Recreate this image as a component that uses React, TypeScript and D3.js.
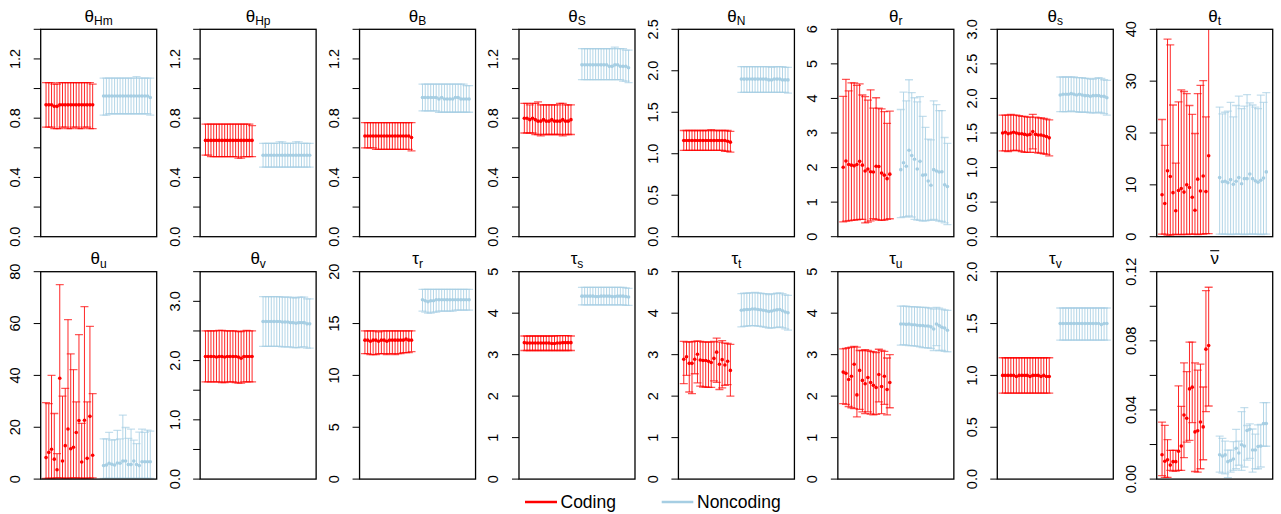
import React from "react";
import * as d3 from "d3";

// ---- data: 18 replicates per group ----
// each series: mean, lower end, upper end of the interval

const hmCodMean = [0.89,0.89,0.89,0.88,0.88,0.89,0.89,0.89,0.89,0.89,0.89,0.89,0.89,0.89,0.89,0.89,0.89,0.89];
const hmCodLo = [0.74,0.74,0.74,0.73,0.73,0.73,0.74,0.74,0.73,0.73,0.74,0.74,0.73,0.73,0.74,0.74,0.73,0.73];
const hmCodHi = [1.04,1.04,1.04,1.03,1.03,1.04,1.04,1.04,1.04,1.04,1.04,1.04,1.04,1.04,1.04,1.04,1.04,1.03];
const hmNonMean = [0.95,0.95,0.95,0.95,0.95,0.95,0.95,0.95,0.95,0.95,0.95,0.95,0.95,0.95,0.95,0.95,0.95,0.94];
const hmNonLo = [0.82,0.82,0.83,0.83,0.83,0.83,0.83,0.83,0.83,0.83,0.83,0.83,0.83,0.83,0.83,0.83,0.83,0.82];
const hmNonHi = [1.07,1.07,1.07,1.07,1.07,1.07,1.07,1.07,1.07,1.07,1.07,1.07,1.08,1.07,1.07,1.07,1.07,1.07];

const hpCodMean = [0.65,0.65,0.65,0.65,0.65,0.65,0.65,0.65,0.65,0.65,0.65,0.65,0.65,0.65,0.65,0.65,0.65,0.65];
const hpCodLo = [0.55,0.55,0.54,0.54,0.54,0.54,0.54,0.54,0.54,0.54,0.54,0.54,0.53,0.53,0.54,0.54,0.54,0.54];
const hpCodHi = [0.76,0.76,0.76,0.76,0.76,0.76,0.76,0.76,0.76,0.76,0.76,0.76,0.76,0.76,0.76,0.76,0.76,0.75];
const hpNonMean = [0.55,0.55,0.55,0.55,0.55,0.55,0.55,0.55,0.55,0.55,0.55,0.55,0.55,0.55,0.55,0.55,0.55,0.55];
const hpNonLo = [0.47,0.47,0.47,0.47,0.47,0.47,0.47,0.47,0.47,0.47,0.47,0.47,0.47,0.47,0.47,0.47,0.47,0.47];
const hpNonHi = [0.63,0.63,0.63,0.63,0.63,0.63,0.64,0.64,0.63,0.63,0.63,0.63,0.64,0.64,0.63,0.63,0.63,0.63];

const bCodMean = [0.68,0.68,0.68,0.68,0.68,0.68,0.68,0.68,0.68,0.68,0.68,0.68,0.68,0.68,0.68,0.68,0.68,0.67];
const bCodLo = [0.60,0.60,0.60,0.60,0.59,0.59,0.59,0.59,0.59,0.59,0.59,0.59,0.59,0.59,0.59,0.59,0.59,0.58];
const bCodHi = [0.77,0.77,0.77,0.77,0.77,0.77,0.77,0.77,0.77,0.77,0.77,0.77,0.77,0.77,0.77,0.77,0.77,0.77];
const bNonMean = [0.94,0.94,0.94,0.94,0.94,0.94,0.93,0.94,0.93,0.93,0.93,0.93,0.94,0.94,0.93,0.93,0.93,0.93];
const bNonLo = [0.85,0.85,0.85,0.85,0.85,0.85,0.84,0.84,0.84,0.84,0.84,0.84,0.84,0.84,0.84,0.84,0.84,0.84];
const bNonHi = [1.03,1.03,1.03,1.03,1.03,1.03,1.03,1.03,1.03,1.03,1.03,1.03,1.03,1.03,1.03,1.03,1.02,1.02];

const sCodMean = [0.80,0.80,0.79,0.80,0.79,0.78,0.78,0.79,0.78,0.78,0.79,0.78,0.78,0.78,0.79,0.78,0.78,0.79];
const sCodLo = [0.70,0.70,0.70,0.70,0.69,0.69,0.68,0.69,0.69,0.69,0.69,0.69,0.69,0.69,0.68,0.69,0.69,0.69];
const sCodHi = [0.90,0.90,0.89,0.90,0.90,0.91,0.89,0.89,0.89,0.89,0.89,0.89,0.89,0.90,0.90,0.89,0.89,0.89];
const sNonMean = [1.16,1.16,1.16,1.16,1.16,1.16,1.16,1.16,1.16,1.16,1.15,1.15,1.16,1.16,1.15,1.15,1.15,1.14];
const sNonLo = [1.06,1.06,1.06,1.06,1.06,1.06,1.06,1.06,1.06,1.06,1.06,1.06,1.06,1.06,1.06,1.05,1.05,1.04];
const sNonHi = [1.27,1.27,1.27,1.27,1.27,1.27,1.27,1.27,1.27,1.27,1.27,1.27,1.28,1.27,1.27,1.27,1.26,1.26];

const nCodMean = [1.16,1.16,1.16,1.16,1.16,1.16,1.16,1.16,1.16,1.16,1.16,1.16,1.16,1.16,1.16,1.16,1.15,1.14];
const nCodLo = [1.04,1.04,1.04,1.04,1.04,1.04,1.04,1.04,1.04,1.04,1.04,1.04,1.04,1.04,1.04,1.03,1.03,1.02];
const nCodHi = [1.28,1.28,1.28,1.28,1.28,1.28,1.28,1.28,1.28,1.28,1.29,1.28,1.28,1.28,1.28,1.28,1.28,1.27];
const nNonMean = [1.90,1.90,1.90,1.90,1.90,1.90,1.90,1.90,1.90,1.90,1.89,1.89,1.90,1.90,1.90,1.89,1.89,1.89];
const nNonLo = [1.74,1.74,1.74,1.74,1.74,1.74,1.74,1.74,1.74,1.74,1.74,1.74,1.74,1.74,1.74,1.74,1.74,1.73];
const nNonHi = [2.05,2.05,2.05,2.05,2.05,2.05,2.05,2.05,2.05,2.05,2.05,2.04,2.05,2.05,2.05,2.05,2.04,2.04];

const rCodMean = [2.01,2.19,2.09,2.07,2.05,2.09,2.18,2.07,1.90,1.96,1.88,1.87,2.04,2.03,1.84,1.78,1.68,1.81];
const rCodLo = [0.43,0.45,0.46,0.47,0.48,0.49,0.50,0.50,0.40,0.42,0.46,0.52,0.50,0.48,0.47,0.48,0.50,0.52];
const rCodHi = [4.06,4.55,4.22,4.45,4.45,4.38,4.42,4.10,4.05,3.95,4.25,3.72,4.02,3.72,3.70,3.62,3.28,3.63];
const rNonMean = [1.94,2.14,2.04,2.50,2.35,2.24,1.96,2.18,1.78,1.79,1.61,1.49,1.94,1.90,1.87,1.88,1.50,1.45];
const rNonLo = [0.55,0.57,0.58,0.60,0.57,0.50,0.48,0.47,0.45,0.46,0.47,0.48,0.50,0.47,0.45,0.44,0.40,0.35];
const rNonHi = [3.68,4.18,3.93,4.54,4.17,4.02,3.90,4.05,3.48,3.16,2.82,2.80,3.93,3.82,3.65,3.65,2.87,2.70];

const ssCodMean = [1.50,1.51,1.49,1.50,1.51,1.50,1.49,1.49,1.48,1.47,1.48,1.52,1.48,1.47,1.47,1.46,1.45,1.43];
const ssCodLo = [1.24,1.24,1.23,1.24,1.25,1.25,1.24,1.23,1.22,1.22,1.22,1.27,1.22,1.21,1.21,1.20,1.19,1.17];
const ssCodHi = [1.76,1.76,1.76,1.77,1.76,1.76,1.75,1.74,1.74,1.73,1.73,1.77,1.73,1.72,1.72,1.71,1.70,1.69];
const ssNonMean = [2.05,2.06,2.06,2.06,2.07,2.06,2.05,2.06,2.05,2.04,2.04,2.03,2.04,2.04,2.04,2.03,2.03,2.01];
const ssNonLo = [1.81,1.81,1.81,1.81,1.82,1.81,1.81,1.80,1.80,1.80,1.80,1.79,1.79,1.79,1.80,1.79,1.78,1.76];
const ssNonHi = [2.31,2.31,2.31,2.31,2.31,2.31,2.30,2.30,2.30,2.29,2.29,2.28,2.28,2.29,2.30,2.29,2.27,2.26];

const tCodMean = [8.1,6.4,12.7,11.6,8.5,5.0,8.9,9.3,8.6,10.0,9.5,7.6,5.1,11.1,8.8,11.7,8.7,15.6];
const tCodLo = [0.5,0.5,0.3,0.3,0.4,0.5,0.4,0.4,0.5,0.4,0.5,0.5,0.5,0.4,0.5,0.5,0.6,0.6];
const tCodHi = [22.6,17.6,38.1,37.0,25.4,14.2,26.0,28.3,28.0,27.6,25.3,23.6,19.9,27.6,29.2,30.1,23.1,45.0];
const tNonMean = [11.4,10.6,10.7,10.4,11.0,10.1,10.7,11.4,10.2,11.2,11.2,12.1,11.2,10.8,10.5,10.9,11.3,12.5];
const tNonLo = [0.5,0.5,0.5,0.5,0.4,0.5,0.5,0.5,0.5,0.4,0.5,0.5,0.5,0.5,0.5,0.4,0.5,0.5];
const tNonHi = [25.0,23.7,24.0,24.2,25.9,23.1,25.3,27.1,24.7,25.2,27.4,25.8,25.4,25.0,24.7,27.3,25.9,27.8];

const uCodMean = [8.3,10.3,11.5,7.7,3.6,38.9,7.0,12.9,19.3,11.7,12.3,18.0,22.6,6.6,22.7,8.0,24.2,9.2];
const uCodLo = [0.3,0.4,0.3,0.4,0.5,0.5,0.4,0.3,0.4,0.4,0.5,0.5,0.4,0.4,0.3,0.4,0.4,0.5];
const uCodHi = [29.5,29.1,40.0,25.3,9.8,75.0,32.0,35.0,61.5,48.3,42.2,29.8,55.7,21.5,66.5,29.8,58.9,33.0];
const uNonMean = [5.2,5.4,6.1,5.7,5.4,6.2,6.1,7.0,7.0,5.6,5.6,7.0,5.6,5.2,6.7,6.7,6.7,6.7];
const uNonLo = [0.3,0.3,0.3,0.3,0.3,0.3,0.3,0.3,0.3,0.3,0.3,0.3,0.3,0.3,0.3,0.3,0.3,0.3];
const uNonHi = [15.5,15.5,18.0,15.0,15.2,18.8,15.5,24.7,19.9,15.7,19.3,15.0,13.7,18.1,19.3,18.0,18.9,18.5];

const vCodMean = [2.07,2.07,2.07,2.07,2.06,2.07,2.07,2.06,2.07,2.07,2.07,2.07,2.06,2.04,2.07,2.07,2.07,2.07];
const vCodLo = [1.64,1.64,1.64,1.64,1.64,1.64,1.63,1.63,1.64,1.64,1.64,1.63,1.62,1.62,1.64,1.64,1.64,1.64];
const vCodHi = [2.50,2.50,2.50,2.50,2.50,2.51,2.51,2.50,2.50,2.50,2.50,2.50,2.49,2.49,2.50,2.51,2.50,2.50];
const vNonMean = [2.66,2.66,2.66,2.66,2.66,2.66,2.66,2.65,2.65,2.65,2.64,2.64,2.63,2.64,2.64,2.64,2.62,2.62];
const vNonLo = [2.24,2.24,2.24,2.24,2.24,2.24,2.24,2.23,2.23,2.23,2.23,2.22,2.22,2.22,2.23,2.23,2.21,2.21];
const vNonHi = [3.08,3.08,3.08,3.08,3.08,3.08,3.08,3.07,3.07,3.07,3.07,3.06,3.06,3.07,3.07,3.07,3.04,3.04];

const trCodMean = [13.4,13.4,13.3,13.4,13.4,13.3,13.4,13.4,13.3,13.4,13.4,13.4,13.4,13.4,13.4,13.5,13.4,13.4];
const trCodLo = [12.1,12.1,12.0,12.0,12.0,12.1,12.1,12.1,12.0,12.1,12.1,12.0,12.1,12.1,12.2,12.2,12.2,12.3];
const trCodHi = [14.3,14.3,14.3,14.3,14.3,14.2,14.3,14.3,14.3,14.3,14.3,14.3,14.3,14.3,14.3,14.3,14.3,14.3];
const trNonMean = [17.3,17.2,17.1,17.2,17.2,17.3,17.3,17.3,17.3,17.3,17.3,17.3,17.3,17.3,17.3,17.3,17.3,17.3];
const trNonLo = [16.2,16.1,16.0,16.0,16.1,16.1,16.2,16.2,16.2,16.2,16.2,16.2,16.3,16.3,16.3,16.3,16.3,16.3];
const trNonHi = [18.3,18.3,18.3,18.3,18.3,18.3,18.3,18.3,18.3,18.3,18.3,18.3,18.3,18.3,18.3,18.3,18.3,18.3];

const tsCodMean = [3.29,3.28,3.28,3.28,3.28,3.28,3.28,3.28,3.28,3.28,3.27,3.27,3.28,3.28,3.29,3.29,3.29,3.29];
const tsCodLo = [3.10,3.10,3.10,3.10,3.10,3.10,3.10,3.10,3.10,3.10,3.10,3.10,3.10,3.10,3.10,3.10,3.10,3.10];
const tsCodHi = [3.45,3.45,3.45,3.45,3.45,3.45,3.45,3.45,3.45,3.45,3.45,3.45,3.46,3.46,3.46,3.46,3.46,3.45];
const tsNonMean = [4.41,4.41,4.41,4.41,4.41,4.40,4.40,4.41,4.41,4.41,4.41,4.40,4.40,4.41,4.41,4.41,4.40,4.39];
const tsNonLo = [4.20,4.20,4.20,4.20,4.20,4.20,4.20,4.20,4.20,4.20,4.20,4.20,4.20,4.20,4.20,4.20,4.19,4.19];
const tsNonHi = [4.62,4.62,4.62,4.62,4.62,4.62,4.62,4.62,4.62,4.62,4.62,4.62,4.62,4.62,4.62,4.62,4.61,4.60];

const ttCodMean = [2.89,2.95,2.79,2.79,2.89,3.01,2.87,2.86,2.86,2.84,2.81,2.91,3.06,2.77,2.88,2.75,2.84,2.62];
const ttCodLo = [2.30,2.50,2.10,2.06,2.54,2.32,2.24,2.22,2.22,2.21,2.21,2.37,2.33,2.16,2.20,2.26,2.28,2.00];
const ttCodHi = [3.32,3.30,3.31,3.31,3.32,3.33,3.32,3.30,3.31,3.30,3.30,3.32,3.40,3.30,3.34,3.28,3.27,3.25];
const ttNonMean = [4.07,4.08,4.09,4.09,4.10,4.10,4.09,4.08,4.07,4.06,4.04,4.05,4.07,4.08,4.09,4.06,4.03,4.01];
const ttNonLo = [3.67,3.68,3.69,3.70,3.70,3.70,3.69,3.68,3.67,3.66,3.64,3.64,3.65,3.66,3.67,3.65,3.62,3.59];
const ttNonHi = [4.47,4.48,4.48,4.49,4.49,4.50,4.49,4.48,4.47,4.47,4.45,4.46,4.47,4.48,4.49,4.47,4.44,4.43];

const tuCodMean = [2.58,2.55,2.40,2.48,2.77,2.03,2.62,2.38,2.30,2.45,2.33,2.26,2.21,2.52,2.23,2.48,2.16,2.33];
const tuCodLo = [1.82,1.80,1.75,1.72,1.70,1.50,1.68,1.62,1.58,1.62,1.57,1.55,1.56,1.86,1.58,1.80,1.55,1.72];
const tuCodHi = [3.14,3.15,3.17,3.18,3.20,3.18,3.10,3.10,3.12,3.10,3.08,3.07,3.05,3.13,3.10,3.08,2.92,3.00];
const tuNonMean = [3.74,3.74,3.73,3.74,3.72,3.72,3.71,3.70,3.70,3.69,3.69,3.67,3.62,3.74,3.70,3.66,3.64,3.59];
const tuNonLo = [3.23,3.24,3.23,3.22,3.22,3.21,3.20,3.19,3.17,3.17,3.16,3.15,3.10,3.22,3.10,3.10,3.08,3.07];
const tuNonHi = [4.17,4.17,4.17,4.16,4.16,4.15,4.15,4.14,4.14,4.14,4.13,4.12,4.10,4.14,4.12,4.10,4.08,4.07];

const tvCodMean = [1.00,1.00,1.00,1.00,1.00,0.99,1.00,1.00,1.00,1.00,0.99,1.00,1.00,1.00,0.99,1.00,0.99,0.99];
const tvCodLo = [0.83,0.83,0.83,0.83,0.83,0.83,0.83,0.83,0.83,0.83,0.83,0.83,0.83,0.83,0.83,0.83,0.83,0.83];
const tvCodHi = [1.17,1.17,1.17,1.17,1.17,1.17,1.17,1.17,1.17,1.17,1.17,1.17,1.17,1.17,1.17,1.17,1.17,1.17];
const tvNonMean = [1.50,1.50,1.50,1.50,1.50,1.50,1.50,1.50,1.50,1.50,1.50,1.50,1.50,1.50,1.50,1.49,1.50,1.50];
const tvNonLo = [1.34,1.34,1.34,1.34,1.34,1.34,1.34,1.34,1.34,1.34,1.34,1.34,1.34,1.34,1.34,1.34,1.34,1.34];
const tvNonHi = [1.65,1.65,1.65,1.65,1.65,1.65,1.65,1.65,1.65,1.65,1.65,1.65,1.65,1.65,1.65,1.65,1.65,1.65];

const nuCodMean = [0.0141,0.0103,0.0112,0.0081,0.0101,0.0101,0.0161,0.0191,0.0371,0.0352,0.0522,0.0532,0.0273,0.0280,0.0330,0.0302,0.0752,0.0773];
const nuCodLo = [0.0020,0.0010,0.0010,0.0050,0.0046,0.0046,0.0050,0.0050,0.0124,0.0214,0.0224,0.0327,0.0044,0.0040,0.0060,0.0112,0.0390,0.0423];
const nuCodHi = [0.0330,0.0311,0.0228,0.0166,0.0166,0.0166,0.0539,0.0421,0.0672,0.0622,0.0792,0.0792,0.0672,0.0630,0.0665,0.0533,0.1090,0.1110];
const nuNonMean = [0.0141,0.0133,0.0140,0.0101,0.0108,0.0116,0.0178,0.0151,0.0199,0.0191,0.0281,0.0288,0.0168,0.0168,0.0189,0.0191,0.0321,0.0321];
const nuNonLo = [0.0040,0.0035,0.0030,0.0008,0.0040,0.0050,0.0060,0.0080,0.0050,0.0070,0.0110,0.0120,0.0040,0.0060,0.0060,0.0070,0.0190,0.0190];
const nuNonHi = [0.0249,0.0236,0.0220,0.0168,0.0168,0.0217,0.0288,0.0220,0.0390,0.0414,0.0310,0.0320,0.0290,0.0260,0.0314,0.0316,0.0443,0.0443];

// ---- panel settings: symbol, subscript, y range, tick step, format, label every n-th tick
const panels = [
  { sym: "θ", sub: "Hm", ymax: 1.4, step: 0.2, fmt: ".1f", every: 2, cod: [hmCodMean, hmCodLo, hmCodHi], non: [hmNonMean, hmNonLo, hmNonHi] },
  { sym: "θ", sub: "Hp", ymax: 1.4, step: 0.2, fmt: ".1f", every: 2, cod: [hpCodMean, hpCodLo, hpCodHi], non: [hpNonMean, hpNonLo, hpNonHi] },
  { sym: "θ", sub: "B", ymax: 1.4, step: 0.2, fmt: ".1f", every: 2, cod: [bCodMean, bCodLo, bCodHi], non: [bNonMean, bNonLo, bNonHi] },
  { sym: "θ", sub: "S", ymax: 1.4, step: 0.2, fmt: ".1f", every: 2, cod: [sCodMean, sCodLo, sCodHi], non: [sNonMean, sNonLo, sNonHi] },
  { sym: "θ", sub: "N", ymax: 2.5, step: 0.5, fmt: ".1f", every: 1, cod: [nCodMean, nCodLo, nCodHi], non: [nNonMean, nNonLo, nNonHi] },
  { sym: "θ", sub: "r", ymax: 6, step: 1, fmt: "d", every: 1, cod: [rCodMean, rCodLo, rCodHi], non: [rNonMean, rNonLo, rNonHi] },
  { sym: "θ", sub: "s", ymax: 3, step: 0.5, fmt: ".1f", every: 1, cod: [ssCodMean, ssCodLo, ssCodHi], non: [ssNonMean, ssNonLo, ssNonHi] },
  { sym: "θ", sub: "t", ymax: 40, step: 10, fmt: "d", every: 1, cod: [tCodMean, tCodLo, tCodHi], non: [tNonMean, tNonLo, tNonHi] },
  { sym: "θ", sub: "u", ymax: 80, step: 20, fmt: "d", every: 1, cod: [uCodMean, uCodLo, uCodHi], non: [uNonMean, uNonLo, uNonHi] },
  { sym: "θ", sub: "v", ymax: 3.5, step: 0.5, fmt: ".1f", every: 2, cod: [vCodMean, vCodLo, vCodHi], non: [vNonMean, vNonLo, vNonHi] },
  { sym: "τ", sub: "r", ymax: 20, step: 5, fmt: "d", every: 1, cod: [trCodMean, trCodLo, trCodHi], non: [trNonMean, trNonLo, trNonHi] },
  { sym: "τ", sub: "s", ymax: 5, step: 1, fmt: "d", every: 1, cod: [tsCodMean, tsCodLo, tsCodHi], non: [tsNonMean, tsNonLo, tsNonHi] },
  { sym: "τ", sub: "t", ymax: 5, step: 1, fmt: "d", every: 1, cod: [ttCodMean, ttCodLo, ttCodHi], non: [ttNonMean, ttNonLo, ttNonHi] },
  { sym: "τ", sub: "u", ymax: 5, step: 1, fmt: "d", every: 1, cod: [tuCodMean, tuCodLo, tuCodHi], non: [tuNonMean, tuNonLo, tuNonHi] },
  { sym: "τ", sub: "v", ymax: 2, step: 0.5, fmt: ".1f", every: 1, cod: [tvCodMean, tvCodLo, tvCodHi], non: [tvNonMean, tvNonLo, tvNonHi] },
  { sym: "ν", sub: "", bar: true, ymax: 0.12, step: 0.02, fmt: ".2f", every: 2, cod: [nuCodMean, nuCodLo, nuCodHi], non: [nuNonMean, nuNonLo, nuNonHi] },
];

const legendItems = ["Coding", "Noncoding"];
const RED = "#ff0000";
const BLUE = "#a6cee3";
const FONT = "'Liberation Sans', Arial, Helvetica, sans-serif";

const COL_W = 159.43;
const BOX_X = 40.7;
const BOX_W = 116;
const BOX_H = 207.4;
const ROW_Y = [29.3, 271.7];
const NON_OFFSET = 21;

function Series({ data, offset, color, x, y }) {
  const [mean, lo, hi] = data;
  return (
    <g>
      {mean.map((m, i) => {
        const cx = x(i + offset);
        return (
          <g key={i}>
            <line x1={cx} x2={cx} y1={y(lo[i])} y2={y(hi[i])} stroke={color} strokeWidth={1} strokeOpacity={0.85} />
            <line x1={cx - 4} x2={cx + 4} y1={y(lo[i])} y2={y(lo[i])} stroke={color} strokeWidth={1.3} strokeOpacity={0.65} />
            <line x1={cx - 4} x2={cx + 4} y1={y(hi[i])} y2={y(hi[i])} stroke={color} strokeWidth={1.3} strokeOpacity={0.65} />
          </g>
        );
      })}
      {mean.map((m, i) => (
        <circle key={"d" + i} cx={x(i + offset)} cy={y(m)} r={1.8} fill={color} />
      ))}
    </g>
  );
}

function Panel({ p, idx }) {
  const col = idx % 8;
  const row = Math.floor(idx / 8);
  const left = BOX_X + col * COL_W;
  const top = ROW_Y[row];
  const x = d3.scaleLinear().domain([-1.95, 40.35]).range([0, BOX_W]);
  const y = d3.scaleLinear().domain([0, p.ymax]).range([BOX_H, 0]);
  const ticks = d3.range(0, p.ymax + p.step / 2, p.step);
  const fmt = d3.format(p.fmt);
  const clipId = "clip" + idx;
  return (
    <g transform={`translate(${left},${top})`}>
      <clipPath id={clipId}>
        <rect x={0} y={0} width={BOX_W} height={BOX_H} />
      </clipPath>
      <g clipPath={`url(#${clipId})`}>
        <Series data={p.cod} offset={0} color={RED} x={x} y={y} />
        <Series data={p.non} offset={NON_OFFSET} color={BLUE} x={x} y={y} />
      </g>
      <rect x={0} y={0} width={BOX_W} height={BOX_H} fill="none" stroke="#000" strokeWidth={1.3} />
      {ticks.map((t, i) => (
        <g key={i} transform={`translate(0,${y(t)})`}>
          <line x1={-7} x2={0} stroke="#000" strokeWidth={1} />
          {i % p.every === 0 && (
            <text transform="translate(-20.5,0) rotate(-90)" textAnchor="middle" fontSize={14.5} fontFamily={FONT} fill="#000">
              {fmt(t)}
            </text>
          )}
        </g>
      ))}
      <text x={BOX_W / 2} y={-7.5} textAnchor="middle" fontFamily={FONT} fill="#000">
        <tspan fontSize={17}>{p.sym}</tspan>
        {p.sub && (
          <tspan fontSize={12} dy={3.5}>{p.sub}</tspan>
        )}
      </text>
      {p.bar && <line x1={BOX_W / 2 - 4.5} x2={BOX_W / 2 + 4.5} y1={-21} y2={-21} stroke="#000" strokeWidth={1.1} />}
    </g>
  );
}

export default function App() {
  return (
    <svg width={1281} height={514} style={{ position: "absolute", left: 0, top: 0, background: "#fff" }}>
      <rect width={1281} height={514} fill="#fff" />
      {panels.map((p, i) => (
        <Panel key={i} p={p} idx={i} />
      ))}
      <g fontFamily={FONT} fontSize={17.5}>
        <line x1={525} x2={557} y1={502} y2={502} stroke={RED} strokeWidth={2.5} />
        <text x={560.5} y={508.3}>{legendItems[0]}</text>
        <line x1={661.7} x2={693.3} y1={502} y2={502} stroke={BLUE} strokeWidth={2.5} />
        <text x={697} y={508.3}>{legendItems[1]}</text>
      </g>
    </svg>
  );
}
